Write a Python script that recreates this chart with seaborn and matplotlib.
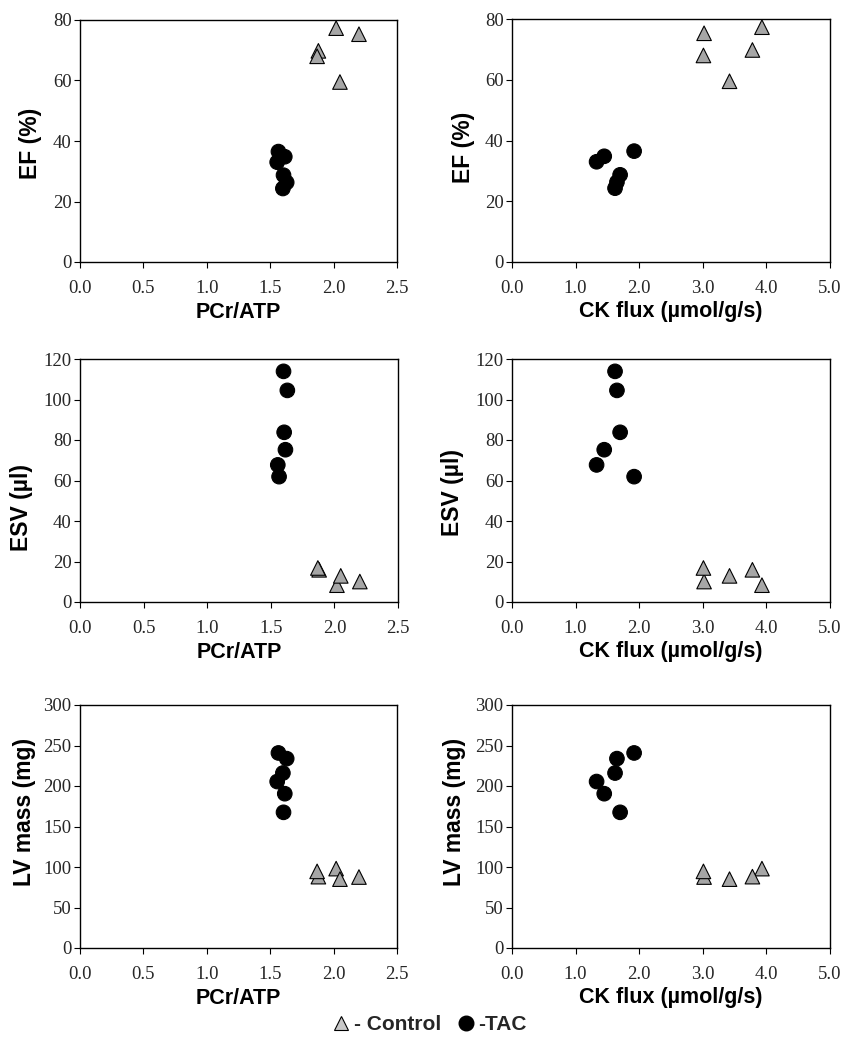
import matplotlib
matplotlib.use("Agg")
import matplotlib.pyplot as plt
from matplotlib.lines import Line2D
import seaborn as sns
import pandas as pd

# ---- data ----
pcr_ctrl = [2.02, 2.20, 1.88, 1.87, 2.05]
ck_ctrl = [3.93, 3.02, 3.78, 3.01, 3.42]
ef_ctrl = [77.3, 75.3, 69.8, 68.0, 59.5]
esv_ctrl = [8.3, 10.1, 15.9, 16.8, 12.9]
lv_ctrl = [98.0, 87.6, 88.1, 94.6, 85.0]

pcr_tac = [1.565, 1.555, 1.615, 1.605, 1.63, 1.60]
ck_tac = [1.92, 1.33, 1.45, 1.70, 1.65, 1.62]
ef_tac = [36.5, 33.0, 34.8, 28.7, 26.3, 24.3]
esv_tac = [61.9, 67.7, 75.2, 83.8, 104.5, 113.9]
lv_tac = [240.8, 205.5, 190.5, 167.5, 233.8, 216.0]

groups = ["Control"] * len(pcr_ctrl) + ["TAC"] * len(pcr_tac)
df = pd.DataFrame({
    "group": groups,
    "pcr": pcr_ctrl + pcr_tac,
    "ck": ck_ctrl + ck_tac,
    "ef": ef_ctrl + ef_tac,
    "esv": esv_ctrl + esv_tac,
    "lv": lv_ctrl + lv_tac,
})

x_labels = {"pcr": "PCr/ATP", "ck": "CK flux (\u00b5mol/g/s)"}
y_labels = {"ef": "EF (%)", "esv": "ESV (\u00b5l)", "lv": "LV mass (mg)"}
x_ticks = {"pcr": [0.0, 0.5, 1.0, 1.5, 2.0, 2.5], "ck": [0.0, 1.0, 2.0, 3.0, 4.0, 5.0]}
y_ticks = {"ef": [0, 20, 40, 60, 80], "esv": [0, 20, 40, 60, 80, 100, 120],
           "lv": [0, 50, 100, 150, 200, 250, 300]}

sns.set_theme(style="white")
plt.rcParams["font.family"] = ["Liberation Sans", "DejaVu Sans"]

W, H = 857, 1050
fig = plt.figure(figsize=(W / 100, H / 100), dpi=100)

# panel boxes in pixels: (left, top, right, bottom), ylabel x-offset px, ylabel y frac
panels = [
    ("pcr", "ef", (80, 20, 397, 262), -49, 0.49),
    ("ck", "ef", (512, 19, 830, 262), -48, 0.47),
    ("pcr", "esv", (80, 359, 398, 602), -58, 0.39),
    ("ck", "esv", (512, 359, 830, 602), -59, 0.45),
    ("pcr", "lv", (80, 705, 397, 948), -55, 0.56),
    ("ck", "lv", (512, 705, 830, 948), -57, 0.56),
]

pal = {"Control": "#a6a6a6", "TAC": "black"}
mk = {"Control": "^", "TAC": "o"}

for xk, yk, (l, t, r, b), ylx, yly in panels:
    ax = fig.add_axes([l / W, 1 - b / H, (r - l) / W, (b - t) / H])
    sns.scatterplot(data=df, x=xk, y=yk, hue="group", style="group",
                    palette=pal, markers=mk, s=110, edgecolor="black",
                    linewidth=0.8, legend=False, ax=ax, zorder=3)
    xt = x_ticks[xk]
    yt = y_ticks[yk]
    ax.set_xlim(xt[0], xt[-1])
    ax.set_ylim(yt[0], yt[-1])
    ax.set_xticks(xt)
    ax.set_xticklabels([f"{v:.1f}" for v in xt], family="Liberation Serif", fontsize=13.5)
    ax.set_yticks(yt)
    ax.set_yticklabels([str(v) for v in yt], family="Liberation Serif", fontsize=13.5)
    ax.tick_params(axis="x", direction="out", length=4, width=0.8, pad=9, color="black", bottom=True)
    ax.tick_params(axis="y", direction="out", length=4, width=0.8, pad=2, color="black", left=True)
    for sp in ax.spines.values():
        sp.set_color("black")
        sp.set_linewidth(1.0)
    ax.set_xlabel(x_labels[xk], fontsize=15.5, fontweight="bold", color="black")
    ax.set_ylabel(y_labels[yk], fontsize=16.5, fontweight="bold", color="black")
    ax.xaxis.label.set_va("center")
    ax.xaxis.set_label_coords(0.5, -50 / (b - t))
    ax.yaxis.label.set_va("center")
    ax.yaxis.set_label_coords(ylx / (r - l), yly)

handles = [
    Line2D([], [], linestyle="none", marker="^", markersize=10, markerfacecolor="#c8c8c8",
           markeredgecolor="black", markeredgewidth=0.8),
    Line2D([], [], linestyle="none", marker="o", markersize=10.5, markerfacecolor="black",
           markeredgecolor="black"),
]
fig.legend(handles, ["- Control", "-TAC"], loc="center", bbox_to_anchor=(428 / W, 1 - 1025 / H),
           ncol=2, frameon=False, handletextpad=0.0, columnspacing=0.6, handlelength=1.2,
           prop={"family": "Liberation Sans", "weight": "bold", "size": 15})

fig.savefig("out.png", dpi=100, facecolor="white")
